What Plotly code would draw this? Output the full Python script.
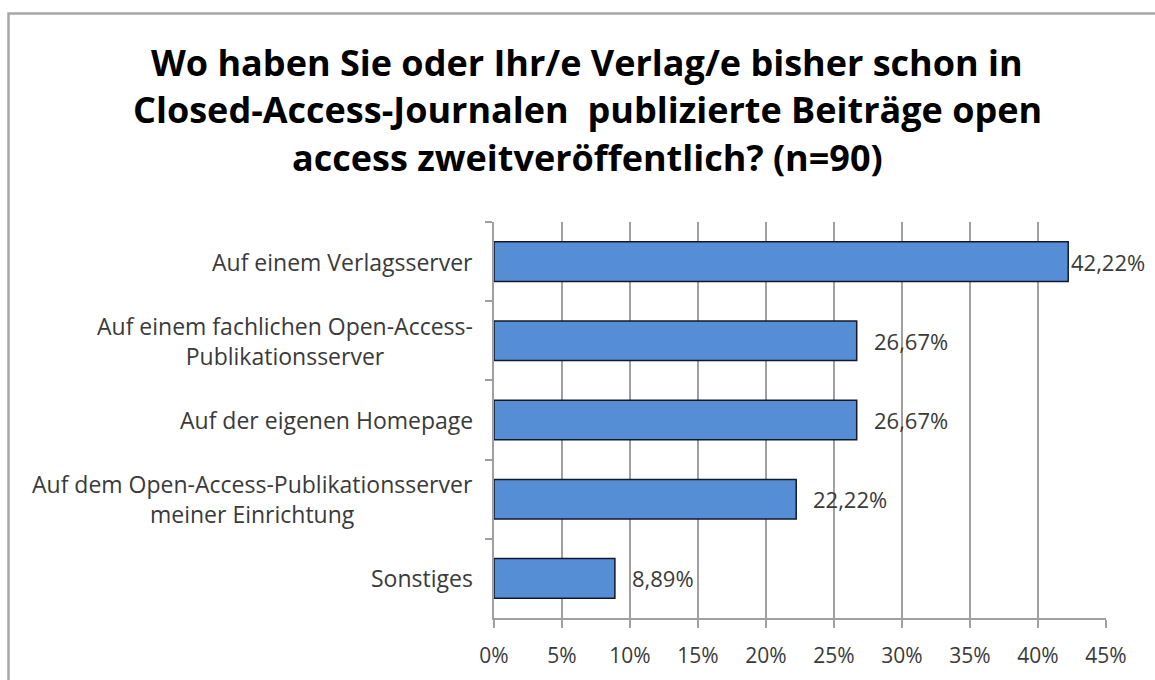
import plotly.graph_objects as go

# Survey answers (n=90), share of respondents in percent
categories = [
    "Auf einem Verlagsserver",
    "Auf einem fachlichen Open-Access-<br>Publikationsserver",
    "Auf der eigenen Homepage",
    "Auf dem Open-Access-Publikationsserver<br>meiner Einrichtung",
    "Sonstiges",
]
values = [42.22, 26.67, 26.67, 22.22, 8.89]
x_ticks = [0, 5, 10, 15, 20, 25, 30, 35, 40, 45]
title_lines = [
    "Wo haben Sie oder Ihr/e Verlag/e bisher schon in",
    "Closed-Access-Journalen  publizierte Beiträge open",
    "access zweitveröffentlich? (n=90)",
]

W, H = 1155, 680
L, R, T, B = 494, 49, 222, 62
plot_w = W - L - R
plot_h = H - T - B

FONT = "Open Sans"
GRID = "#a0a0a0"
TEXT = "#3a3a3a"

fig = go.Figure()
fig.add_trace(go.Bar(
    x=values,
    y=categories,
    orientation="h",
    width=0.5,
    marker=dict(color="#558ed5", line=dict(color="#14182a", width=1.5)),
    hoverinfo="skip",
))

annotations = []
# value labels at the bar ends
for i, (c, v) in enumerate(zip(categories, values)):
    annotations.append(dict(
        x=v, y=c, xref="x", yref="y",
        text=f"{v:.2f}".replace(".", ",") + "%",
        showarrow=False, xanchor="left", yanchor="middle",
        xshift=1 if i == 0 else 15,
        font=dict(family=FONT, size=22, color=TEXT),
    ))
# category labels, centred lines
for c in categories:
    annotations.append(dict(
        x=0, y=c, xref="paper", yref="y",
        text=c, showarrow=False, xanchor="right", yanchor="middle",
        align="center", xshift=-19,
        font=dict(family=FONT, size=23, color=TEXT),
    ))
# title lines
for k, line in enumerate(title_lines):
    py = 63 + 47 * k
    annotations.append(dict(
        x=(587 - L) / plot_w, y=(H - B - py) / plot_h,
        xref="paper", yref="paper",
        text=f"<b>{line}</b>", showarrow=False,
        xanchor="center", yanchor="middle",
        font=dict(family=FONT, size=36, color="#000000"),
    ))

# outer chart border (left and top edges visible)
shapes = [dict(
    type="rect", xref="paper", yref="paper",
    x0=(8.5 - L) / plot_w, x1=(1175 - L) / plot_w,
    y0=(H - B - 700) / plot_h, y1=(H - B - 13.5) / plot_h,
    line=dict(color="#a6a6a6", width=2.5),
    fillcolor="rgba(0,0,0,0)", layer="below",
)]

fig.update_layout(
    width=W, height=H,
    margin=dict(l=L, r=R, t=T, b=B, pad=0),
    paper_bgcolor="white", plot_bgcolor="white",
    showlegend=False,
    annotations=annotations,
    shapes=shapes,
    bargap=0.5,
)
fig.update_xaxes(
    range=[0, 45], tickmode="array", tickvals=x_ticks,
    ticktext=[f"{t}%" for t in x_ticks],
    showgrid=True, gridcolor=GRID, gridwidth=1.5,
    showline=True, linecolor=GRID, linewidth=1.5,
    ticks="outside", ticklen=8, tickcolor=GRID, tickwidth=1.5,
    ticklabelstandoff=10,
    tickfont=dict(family=FONT, size=21, color=TEXT),
    zeroline=False, fixedrange=True,
)
fig.update_yaxes(
    autorange="reversed", tickson="boundaries",
    showticklabels=False, showgrid=False,
    showline=True, linecolor=GRID, linewidth=1.5,
    ticks="outside", ticklen=7, tickcolor=GRID, tickwidth=1.5,
    fixedrange=True,
)

fig.write_html("out.html", config={"displayModeBar": False})
